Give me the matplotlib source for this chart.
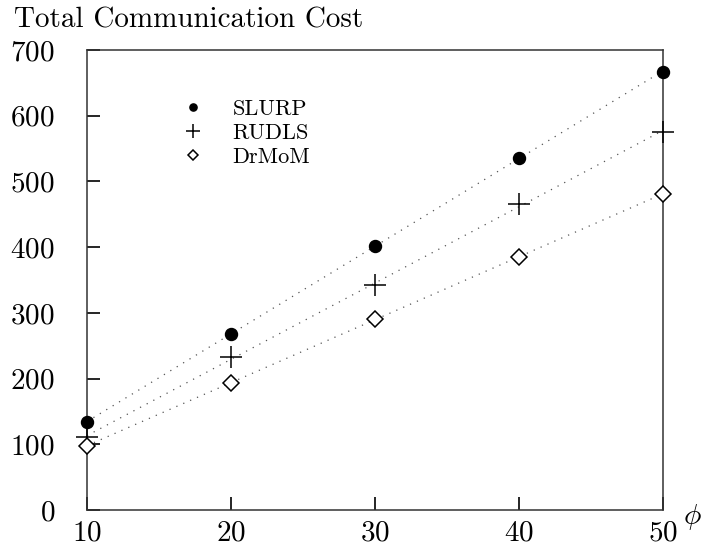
import numpy as np
import matplotlib
matplotlib.use('Agg')
import matplotlib.pyplot as plt

# данные
phi = [10, 20, 30, 40, 50]
slurp = [134, 268, 402, 536, 667]
rudls = [111, 233, 342, 466, 575]
drmom = [98, 193, 291, 385, 481]

plt.rcParams['font.family'] = ['cmr10', 'DejaVu Serif']
plt.rcParams['mathtext.fontset'] = 'cm'
plt.rcParams['axes.formatter.use_mathtext'] = True
plt.rcParams['axes.unicode_minus'] = False

PX = 72 / 100  # пиксели -> точки

fig = plt.figure(figsize=(7.04, 5.48), dpi=100)
ax = fig.add_axes([87 / 704, 38 / 548, 576 / 704, 460 / 548])

series = [
    ('SLURP', slurp, dict(marker='o', ms=12 * PX, mfc='black', mec='black')),
    ('RUDLS', rudls, dict(marker='+', ms=23 * PX, mew=1.1, mec='black')),
    ('DrMoM', drmom, dict(marker='D', ms=11 * PX, mfc='white', mec='black', mew=1.1)),
]

x = np.array(phi)
for name, ys, st in series:
    # точечная линия тренда
    k, b = np.polyfit(x, ys, 1)
    ax.plot(x, k * x + b, linestyle=(0, (1, 5)), color='#555555', lw=0.9, zorder=1)
    ax.plot(x, ys, linestyle='none', zorder=3, clip_on=False, **st)

# легенда без рамки
handles = []
for name, ys, st in series:
    st2 = dict(st)
    st2['ms'] = st['ms'] * 0.6
    h, = ax.plot([], [], linestyle='none', label=name, **st2)
    handles.append(h)
ax.legend(handles=handles, loc='upper left', bbox_to_anchor=(88 / 576, 1 - 49 / 460),
          frameon=False, fontsize=16, handlelength=1.6, handletextpad=1.0,
          labelspacing=0.2, borderaxespad=0, borderpad=0)

ax.set_xlim(10, 50)
ax.set_ylim(0, 700)
ax.set_xticks([10, 20, 30, 40, 50])
ax.set_yticks(range(0, 701, 100))
ax.tick_params(direction='in', length=13 * PX, width=1.2, labelsize=21,
               top=False, right=False)
ax.tick_params(axis='y', pad=32 * PX)
ax.tick_params(axis='x', pad=10 * PX)
for s in ax.spines.values():
    s.set_linewidth(1.1)
    s.set_color('#333333')

fig.text(14 / 704, 1 - 27 / 548, 'Total Communication Cost', fontsize=21,
         va='baseline', ha='left')
fig.text(702 / 704, 1 - 517 / 548, r'$\phi$', fontsize=21, ha='right', va='center')

fig.savefig('out.png', dpi=100)
